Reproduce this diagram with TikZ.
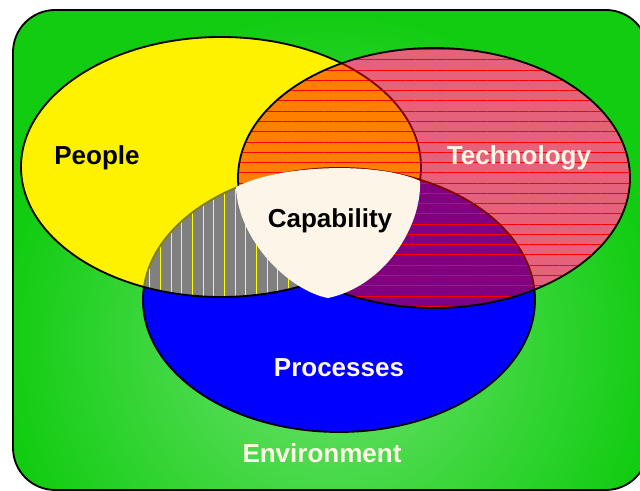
\documentclass[tikz,border=0pt]{standalone}
\usepackage{fontspec}
\setmainfont{Liberation Sans}
\usetikzlibrary{patterns.meta}
\definecolor{envgreen}{RGB}{17,204,17}
\definecolor{envlight}{RGB}{112,226,112}
\definecolor{procblue}{RGB}{0,0,255}
\definecolor{techpink}{RGB}{230,98,122}
\definecolor{linered}{RGB}{255,0,0}
\definecolor{mixorange}{RGB}{255,128,0}
\definecolor{mixpurple}{RGB}{128,0,128}
\definecolor{mixgray}{RGB}{128,128,128}
\definecolor{edgeolive}{RGB}{128,128,0}
\definecolor{edgered}{RGB}{128,0,0}
\definecolor{capcream}{RGB}{253,246,232}
\definecolor{textcream}{RGB}{255,248,230}
\tikzstyle{every picture}=[x=0.025cm, y=0.025cm, line width=1.3pt]
\tikzstyle{techlines}=[postaction={pattern={Lines[angle=0,distance=7.3pt,line width=.6pt]},pattern color=linered}]
\tikzstyle{peoplelines}=[postaction={pattern={Lines[angle=90,distance=7.6pt,line width=.6pt]},pattern color=yellow}]
\tikzstyle{setname}=[font=\fontsize{18.5}{20}\selectfont\bfseries, inner sep=0pt, anchor=base]
\newcommand{\peopleset}{(221,324) ellipse [x radius=200, y radius=130]}
\newcommand{\techset}{(434,313) ellipse [x radius=196, y radius=130]}
\newcommand{\procset}{(339,191) ellipse [x radius=196, y radius=132]}
\newcommand{\envbox}{(13,1) rectangle (648,481)}

\begin{document}
\begin{tikzpicture}
	\useasboundingbox (0,0) rectangle (640,491);
	\fill[envgreen, rounded corners=30pt] \envbox;
	\begin{scope}
		\clip[rounded corners=30pt] \envbox;
		\shade[inner color=envlight, outer color=envgreen] (330,150) circle (330);
	\end{scope}
	\draw[rounded corners=30pt] \envbox;

	\fill[procblue] \procset;
	\draw \procset;
	\fill[yellow] \peopleset;
	\begin{scope}
		\clip \procset;
		\path[fill=mixgray, peoplelines] \peopleset;
	\end{scope}
	\begin{scope}
		\clip \peopleset;
		\draw[edgeolive] \procset;
	\end{scope}
	\draw \peopleset;

	\path[fill=techpink, techlines] \techset;
	\begin{scope}
		\clip \techset;
		\path[fill=mixorange, techlines] \peopleset;
		\path[fill=mixpurple, techlines] \procset;
		\draw[edgered] \peopleset;
		\draw[edgered] \procset;
	\end{scope}
	\draw \techset;

	\fill[capcream] (236,304) .. controls (280,327) and (380,329) .. (420,310)
		.. controls (422,265) and (385,205) .. (328,193)
		.. controls (290,200) and (238,250) .. (236,304) -- cycle;

	\node[setname] (people) at (97,326) {People};
	\node[setname, text=textcream] (technology) at (519,326) {Technology};
	\node[setname] (capability) at (330,263) {Capability};
	\node[setname, text=textcream] (processes) at (339,114) {Processes};
	\node[setname, text=textcream] (environment) at (322,28) {Environment};
\end{tikzpicture}
\end{document}
